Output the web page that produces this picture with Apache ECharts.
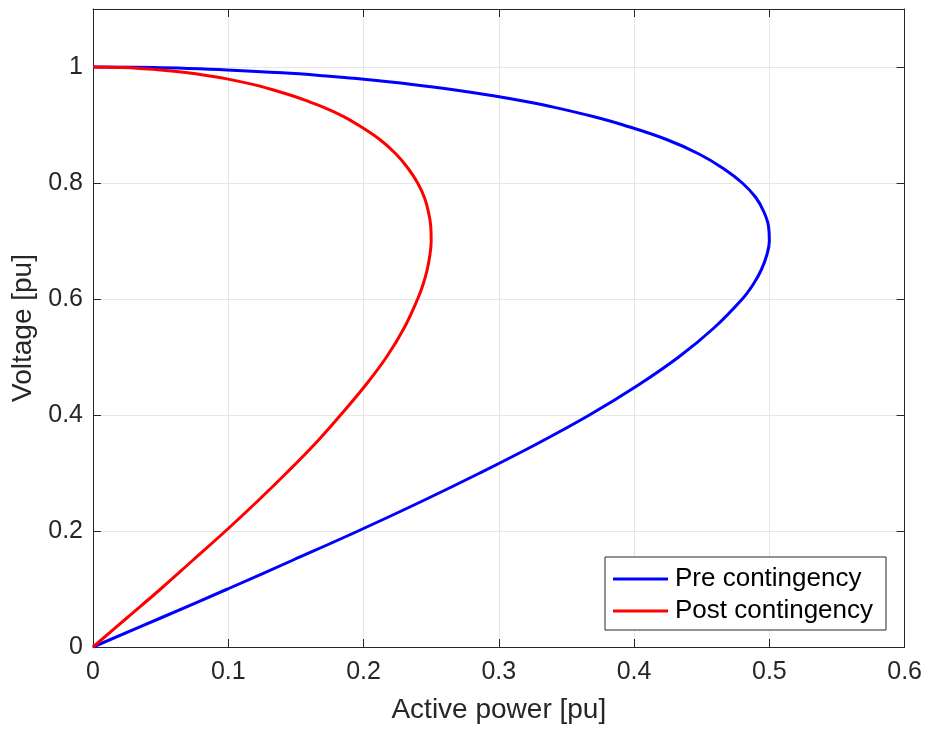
<!DOCTYPE html>
<html>
<head>
<meta charset="utf-8">
<script src="https://cdn.jsdelivr.net/npm/echarts@6/dist/echarts.min.js"></script>
<style>
html, body { margin: 0; padding: 0; background: #fff; }
#main { width: 925px; height: 729px; }
</style>
</head>
<body>
<div id="main"></div>
<script>
// voltage levels [pu]
var voltage = [0, 0.05, 0.1, 0.15, 0.2, 0.25, 0.3, 0.35, 0.4, 0.45, 0.5, 0.55, 0.6, 0.625, 0.65,
    0.675, 0.7, 0.725, 0.75, 0.775, 0.8, 0.825, 0.85, 0.875, 0.9,
    0.915, 0.93, 0.94, 0.95, 0.96, 0.97, 0.98, 0.985, 0.99, 0.995, 0.9975, 0.999, 1];
// active power at those voltages [pu]
var prePower = [0, 0.050, 0.0995, 0.148, 0.196, 0.242, 0.286, 0.328, 0.367, 0.402, 0.433, 0.459, 0.480, 0.488, 0.494,
    0.498, 0.500, 0.4994, 0.496, 0.490, 0.480, 0.466, 0.448, 0.424, 0.392,
    0.369, 0.342, 0.321, 0.297, 0.269, 0.236, 0.195, 0.170, 0.140, 0.099, 0.0705, 0.045, 0];
var postPower = [0, 0.025, 0.050, 0.074, 0.098, 0.121, 0.143, 0.164, 0.183, 0.201, 0.217, 0.230, 0.240, 0.244, 0.247,
    0.249, 0.250, 0.2497, 0.248, 0.245, 0.240, 0.233, 0.224, 0.212, 0.196,
    0.185, 0.171, 0.160, 0.148, 0.134, 0.118, 0.098, 0.085, 0.070, 0.050, 0.035, 0.022, 0];
var seriesNames = ['Pre contingency', 'Post contingency'];
var yTicks = [0, 0.2, 0.4, 0.6, 0.8, 1];

var font = 'Liberation Sans, Arial, Helvetica, sans-serif';
var ink = '#262626';

function pairs(power) {
    return power.map(function (p, i) { return [p, voltage[i]]; });
}

var chart = echarts.init(document.getElementById('main'), null, { renderer: 'canvas' });

var axisBase = {
    type: 'value',
    axisLine: { show: true, onZero: false, lineStyle: { color: ink, width: 1 } },
    axisTick: { show: true, inside: true, length: 8, lineStyle: { color: ink } },
    minorTick: { show: false }
};

var option = {
    backgroundColor: '#fff',
    animation: false,
    grid: { left: 93, right: 20, top: 9, bottom: 80, containLabel: false },
    legend: {
        data: seriesNames,
        orient: 'vertical',
        left: 605,
        top: 557,
        padding: [9, 13, 6, 8],
        itemGap: 6,
        itemWidth: 55,
        itemHeight: 3,
        icon: 'rect',
        borderColor: ink,
        borderWidth: 1,
        borderRadius: 0,
        backgroundColor: '#fff',
        textStyle: { fontFamily: font, fontSize: 26, lineHeight: 26, color: '#000', padding: [0, 0, 0, 2] }
    },
    xAxis: [
        Object.assign({}, axisBase, {
            min: 0, max: 0.6, interval: 0.1,
            name: 'Active power [pu]',
            nameLocation: 'middle',
            nameGap: 49,
            nameTextStyle: { fontFamily: font, fontSize: 28, color: ink },
            axisLabel: { fontFamily: font, fontSize: 25, color: ink, margin: 13 },
            splitLine: { show: true, lineStyle: { color: '#e6e6e6', width: 1 } }
        }),
        Object.assign({}, axisBase, {
            position: 'top',
            min: 0, max: 0.6, interval: 0.1,
            axisLabel: { show: false },
            splitLine: { show: false }
        })
    ],
    yAxis: [
        Object.assign({}, axisBase, {
            min: 0, max: 1.1, interval: 0.2,
            name: 'Voltage [pu]',
            nameLocation: 'middle',
            nameGap: 52,
            nameTextStyle: { fontFamily: font, fontSize: 28, color: ink },
            axisLabel: {
                fontFamily: font, fontSize: 25, color: ink, margin: 10,
                formatter: function (v) { return v > 1.05 ? '' : String(+v.toFixed(1)); }
            },
            axisTick: { show: true, inside: true, length: 8, lineStyle: { color: ink }, customValues: yTicks },
            splitLine: { show: true, lineStyle: { color: '#e6e6e6', width: 1 } }
        }),
        Object.assign({}, axisBase, {
            position: 'right',
            min: 0, max: 1.1, interval: 0.2,
            axisLabel: { show: false },
            axisTick: { show: true, inside: true, length: 8, lineStyle: { color: ink }, customValues: yTicks },
            splitLine: { show: false }
        })
    ],
    series: [
        {
            name: seriesNames[0],
            type: 'line',
            data: pairs(prePower),
            showSymbol: false,
            smooth: 0.4,
            color: '#0000ff',
            lineStyle: { color: '#0000ff', width: 3 },
            z: 3
        },
        {
            name: seriesNames[1],
            type: 'line',
            data: pairs(postPower),
            showSymbol: false,
            smooth: 0.4,
            color: '#ff0000',
            lineStyle: { color: '#ff0000', width: 3 },
            z: 4
        }
    ]
};

chart.setOption(option);
</script>
</body>
</html>
